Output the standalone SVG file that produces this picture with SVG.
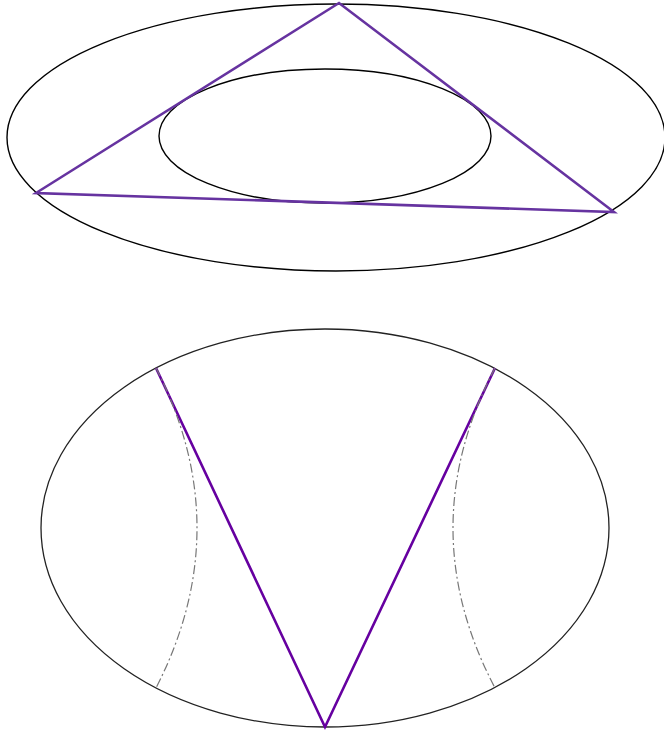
<svg xmlns="http://www.w3.org/2000/svg" width="664" height="733" viewBox="0 0 664 733">
<style>
.el{fill:none;stroke:#000;stroke-width:1.4}
.el2{fill:none;stroke:#222;stroke-width:1.3}
.tri{fill:none;stroke:#6633a0;stroke-width:2.6;stroke-linejoin:miter}
.vee{fill:none;stroke:#6600a0;stroke-width:2.6}
.dd{fill:none;stroke:#777;stroke-width:1.2;stroke-dasharray:9,3,2,3}
</style>
<rect width="664" height="733" fill="#fff"/>
<g id="top-outer"><ellipse class="el" cx="336" cy="137.5" rx="329" ry="133.5"/></g>
<g id="top-inner"><ellipse class="el" cx="325" cy="136" rx="166" ry="67"/></g>
<g id="bottom-ellipse"><ellipse class="el2" cx="325" cy="528" rx="284" ry="199"/></g>
<g id="connectors">
<polygon class="tri" points="339,3 36,193 614,212"/>
<polyline class="vee" points="156,368 325,727 495,368"/>
<path class="dd" d="M156,368 Q238,528 156,688"/>
<path class="dd" d="M495,368 Q411,528 495,688"/>
</g>
</svg>
